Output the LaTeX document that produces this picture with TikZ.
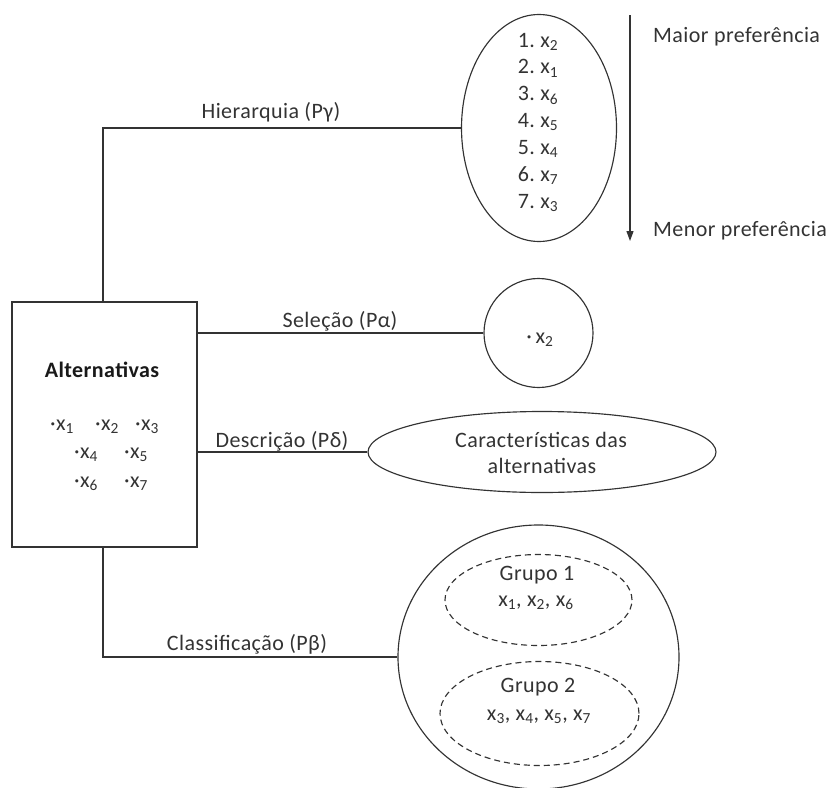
\documentclass[tikz,border=0pt]{standalone}
\usepackage{fontspec}
\setmainfont{Carlito}[LetterSpace=2]
\usetikzlibrary{shapes.geometric,arrows.meta}

\newcommand{\xs}[1]{x\textsubscript{#1}}

\begin{document}
\begin{tikzpicture}[x=1pt,y=-1pt,
  every node/.style={font=\fontsize{22}{26}\selectfont, text=black!80, inner sep=0pt},
  line/.style={draw=black!80, line width=1.15pt},
  box/.style={line, rectangle, minimum width=185pt, minimum height=245pt},
  oval/.style={line, ellipse},
  group/.style={line, ellipse, dash pattern=on 6pt off 4pt},
  txt/.style={anchor=base},
  lbl/.style={anchor=base}
]
\useasboundingbox (0,0) rectangle (832,787);

% central box with the set of alternatives
\node[box] (alt) at (104.5,424.5) {};
\node[txt, font=\fontsize{22}{26}\selectfont\bfseries, text=black!90] (alttitle) at (102,377) {Alternativas};
\node[txt] (a1) at (62,430) {·\xs{1}};
\node[txt] (a2) at (107,430) {·\xs{2}};
\node[txt] (a3) at (147,430) {·\xs{3}};
\node[txt] (a4) at (86,458) {·\xs{4}};
\node[txt] (a5) at (136,458) {·\xs{5}};
\node[txt] (a6) at (86,487) {·\xs{6}};
\node[txt] (a7) at (136,487) {·\xs{7}};

% ranking
\node[oval, minimum width=155pt, minimum height=227pt] (hier) at (539,128) {};
\foreach \r/\v [count=\i from 0] in {1/2,2/1,3/6,4/5,5/4,6/7,7/3}
  \node[txt] (h\r) at (538,47+26.9*\i) {\r.\ \xs{\v}};

% preference direction
\coordinate (ptop) at (630,15);
\coordinate (pbot) at (630,241);
\draw[line, -{Triangle[length=10pt,width=7pt]}] (ptop) -- (pbot);
\node[anchor=base west] (maior) at (653,42) {Maior preferência};
\node[anchor=base west] (menor) at (653,236) {Menor preferência};

% choice
\node[line, circle, minimum size=109pt] (sel) at (538.5,333) {};
\node[txt] (selx) at (540,343) {·\,\xs{2}};

% description
\node[oval, minimum width=348pt, minimum height=81pt] (desc) at (542,452) {};
\node[txt] (d1) at (541,447) {Características das};
\node[txt] (d2) at (542,473) {alternativas};

% sorting
\node[oval, minimum width=281pt, minimum height=264pt] (cls) at (538.5,657) {};
\node[group, minimum width=187pt, minimum height=91pt] (g1) at (538.5,600) {};
\node[group, minimum width=199pt, minimum height=104pt] (g2) at (539.5,713.5) {};
\node[txt] (g1t) at (537,580) {Grupo 1};
\node[txt] (g1x) at (536,606) {\xs{1}, \xs{2}, \xs{6}};
\node[txt] (g2t) at (538,692) {Grupo 2};
\node[txt] (g2x) at (539,720) {\xs{3}, \xs{4}, \xs{5}, \xs{7}};

% connectors
\draw[line] (alt.north -| 103,0) |- (hier.west);
\draw[line] (alt.east |- sel.west) -- (sel.west);
\draw[line] (alt.east |- desc.west) -- (desc.west);
\draw[line] (alt.south -| 103,0) |- (cls.west);

% connector labels
\node[lbl] (lh) at (271,118) {Hierarquia (Pγ)};
\node[lbl] (ls) at (340,327) {Seleção (Pα)};
\node[lbl] (ld) at (282,447) {Descrição (Pδ)};
\node[lbl] (lc) at (247,650) {Classificação (Pβ)};
\end{tikzpicture}
\end{document}
